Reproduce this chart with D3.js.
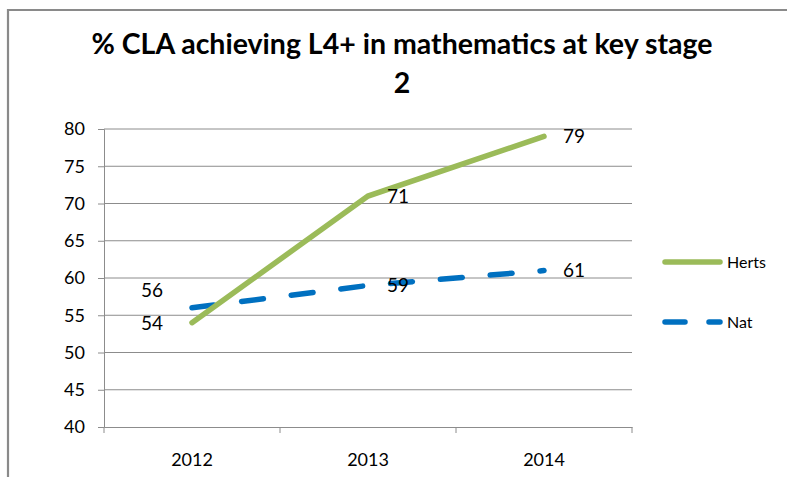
<!DOCTYPE html>
<html>
<head>
<meta charset="utf-8">
<script src="https://cdn.jsdelivr.net/npm/d3@7"></script>
<style>
  html, body { margin: 0; padding: 0; background: #fff; }
  svg { display: block; }
  text { font-family: Lato, "Open Sans", sans-serif; fill: #000; }
</style>
</head>
<body>
<svg id="chart" width="787" height="477"></svg>
<script>
// Chart data
const titleLines = ["% CLA achieving L4+ in mathematics at key stage", "2"];
const years = ["2012", "2013", "2014"];
const herts = [54, 71, 79];
const nat = [56, 59, 61];
const yTicks = [40, 45, 50, 55, 60, 65, 70, 75, 80];
const seriesNames = ["Herts", "Nat"];

// Where each data label sits relative to its point
const hertsLabelPlace = ["left", "right", "right"];
const natLabelPlace = ["leftAbove", "right", "right"];

const svg = d3.select("#chart");
const W = 787, H = 477;
const plot = { left: 104, right: 632, top: 129, bottom: 427 };

// Outer chart frame (continues past the right and bottom edges)
svg.append("path")
  .attr("d", `M8,${H + 5}V10H${W + 5}`)
  .attr("fill", "none")
  .attr("stroke", "#8a8a8a")
  .attr("stroke-width", 2.2);

// Title
const title = svg.append("text")
  .attr("text-anchor", "middle")
  .style("font-weight", "bold")
  .style("font-size", "28.5px");
title.selectAll("tspan").data(titleLines).join("tspan")
  .attr("x", 402)
  .attr("y", (d, i) => 54 + i * 39)
  .text(d => d);

// Scales
const x = d3.scaleBand().domain(years).range([plot.left, plot.right]).padding(0);
const y = d3.scaleLinear().domain([40, 80]).range([plot.bottom, plot.top]);
const cx = d => x(d) + x.bandwidth() / 2;

// Horizontal gridlines
svg.append("g").selectAll("line").data(yTicks.filter(t => t > 40)).join("line")
  .attr("x1", plot.left).attr("x2", plot.right)
  .attr("y1", d => y(d)).attr("y2", d => y(d))
  .attr("stroke", "#8c8c8c").attr("stroke-width", 1);

// Y axis
const yAxis = svg.append("g")
  .attr("transform", `translate(${plot.left},0)`)
  .call(d3.axisLeft(y).tickValues(yTicks).tickSize(6).tickPadding(13));
yAxis.select(".domain").attr("stroke", "#8c8c8c");
yAxis.selectAll(".tick line").attr("stroke", "#8c8c8c");
yAxis.selectAll(".tick text")
  .style("font-size", "18px").style("font-family", "Lato, sans-serif").attr("fill", "#000");

// X axis with ticks between categories
const xAxis = svg.append("g")
  .attr("transform", `translate(0,${plot.bottom})`)
  .call(d3.axisBottom(x).tickSize(0).tickPadding(26));
xAxis.select(".domain").attr("stroke", "#8c8c8c");
xAxis.selectAll(".tick text")
  .style("font-size", "18px").style("font-family", "Lato, sans-serif").attr("fill", "#000");
const bounds = years.map(d => x(d)).concat([x(years[years.length - 1]) + x.bandwidth()]);
xAxis.selectAll(".sep").data(bounds).join("line")
  .attr("class", "sep")
  .attr("x1", d => d).attr("x2", d => d)
  .attr("y1", 0).attr("y2", 6)
  .attr("stroke", "#8c8c8c");

// Lines
const line = d3.line().x((d, i) => cx(years[i])).y(d => y(d));

svg.append("path")
  .datum(nat)
  .attr("d", line)
  .attr("fill", "none")
  .attr("stroke", "#0070C0")
  .attr("stroke-width", 5.5)
  .attr("stroke-linecap", "round")
  .attr("stroke-dasharray", "22 28");

svg.append("path")
  .datum(herts)
  .attr("d", line)
  .attr("fill", "none")
  .attr("stroke", "#9BBB59")
  .attr("stroke-width", 5.5)
  .attr("stroke-linecap", "round");

// Data labels
function drawLabels(values, places) {
  svg.append("g").selectAll("text").data(values).join("text")
    .style("font-size", "19px")
    .attr("text-anchor", (d, i) => places[i] === "right" ? "start" : "end")
    .attr("x", (d, i) => cx(years[i]) + (places[i] === "right" ? 19 : -29))
    .attr("y", (d, i) => y(d) + (places[i] === "leftAbove" ? -18 : 0))
    .attr("dy", "0.36em")
    .text(d => d);
}
drawLabels(herts, hertsLabelPlace);
drawLabels(nat, natLabelPlace);

// Legend
const legend = svg.append("g");
const legendRows = [
  { name: seriesNames[0], color: "#9BBB59", dash: null, y: 262 },
  { name: seriesNames[1], color: "#0070C0", dash: "20 24", y: 322 }
];
legendRows.forEach(r => {
  legend.append("line")
    .attr("x1", 665).attr("x2", 720)
    .attr("y1", r.y).attr("y2", r.y)
    .attr("stroke", r.color)
    .attr("stroke-width", 5.5)
    .attr("stroke-linecap", "round")
    .attr("stroke-dasharray", r.dash);
  legend.append("text")
    .attr("x", 727).attr("y", r.y)
    .attr("dy", "0.36em")
    .style("font-size", "16px")
    .text(r.name);
});
</script>
</body>
</html>
